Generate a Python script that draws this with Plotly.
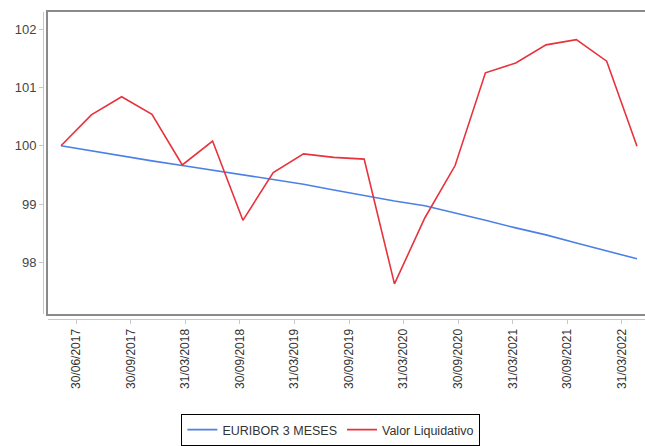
import plotly.graph_objects as go

# ---- data ----
quarters = list(range(20))  # quarterly observation index
euribor = [100.00, 99.91, 99.83, 99.74, 99.66, 99.58, 99.50, 99.43, 99.34, 99.24,
           99.14, 99.05, 98.97, 98.85, 98.72, 98.59, 98.47, 98.33, 98.20, 98.06]
valor = [100.00, 100.53, 100.84, 100.54, 99.67, 100.08, 98.72, 99.54, 99.86, 99.80,
         99.77, 97.63, 98.76, 99.66, 101.25, 101.42, 101.73, 101.82, 101.45, 99.99]
tick_pos = [0.5, 2.3, 4.1, 5.9, 7.7, 9.5, 11.3, 13.1, 14.9, 16.7, 18.5]
tick_labels = ["30/06/2017", "30/09/2017", "31/03/2018", "30/09/2018", "31/03/2019",
               "30/09/2019", "31/03/2020", "30/09/2020", "31/03/2021", "30/09/2021",
               "31/03/2022"]
y_ticks = [98, 99, 100, 101, 102]

W, H = 645, 446
x0, y_top, y_bot = 48, 12, 317
x_range = [-0.429, 19.264]
y_range = [97.11, 102.296]
x_dom = [x0 / W, 1]
y_dom = [1 - y_bot / H, 1 - y_top / H]

fig = go.Figure()
fig.add_trace(go.Scatter(x=quarters, y=euribor, mode="lines", name="EURIBOR 3 MESES",
                         line=dict(color="#4D80E6", width=1.6)))
fig.add_trace(go.Scatter(x=quarters, y=valor, mode="lines", name="Valor Liquidativo",
                         line=dict(color="#E8323C", width=1.6)))
# empty trace that only hosts the frame axes
fig.add_trace(go.Scatter(x=[], y=[], xaxis="x2", yaxis="y2", showlegend=False,
                         hoverinfo="skip"))

fig.update_layout(
    width=W, height=H,
    margin=dict(l=0, r=0, t=0, b=0),
    paper_bgcolor="white", plot_bgcolor="white",
    font=dict(family="Liberation Sans, Arial, sans-serif", size=12, color="#333333"),
    xaxis=dict(
        domain=x_dom, range=x_range,
        anchor="free", position=1 - 322 / H,
        showline=True, linecolor="#c8c8c8", linewidth=1,
        showgrid=False, zeroline=False,
        tickmode="array", tickvals=tick_pos, ticktext=tick_labels,
        tickangle=-90, ticks="outside", ticklen=4, tickcolor="#c8c8c8",
        tickfont=dict(size=12, color="#333333"), automargin=False,
    ),
    yaxis=dict(
        domain=y_dom, range=y_range,
        anchor="free", position=43 / W,
        showline=True, linecolor="#c8c8c8", linewidth=1,
        showgrid=False, zeroline=False,
        tickmode="array", tickvals=y_ticks,
        ticks="outside", ticklen=4, tickcolor="#c8c8c8",
        tickfont=dict(size=13, color="#444444"), automargin=False,
    ),
    xaxis2=dict(
        domain=x_dom, range=x_range, anchor="y2", overlaying="x",
        showline=True, mirror=True, linecolor="#8a8a8a", linewidth=2,
        showgrid=False, zeroline=False, showticklabels=False, ticks="",
        automargin=False,
    ),
    yaxis2=dict(
        domain=y_dom, range=y_range, anchor="x2", overlaying="y",
        showline=True, mirror=False, linecolor="#8a8a8a", linewidth=2,
        showgrid=False, zeroline=False, showticklabels=False, ticks="",
        automargin=False,
    ),
    legend=dict(
        orientation="h", x=0.513, xanchor="center", y=1 - 418 / H, yanchor="top",
        bordercolor="black", borderwidth=1, bgcolor="white",
        font=dict(size=12.5, color="#333333"), itemwidth=30,
    ),
    showlegend=True,
)

fig.write_html("out.html",
               config={"displayModeBar": False},
               post_script="document.documentElement.style.overflow='hidden';"
                           "document.documentElement.style.margin='0px';"
                           "document.body.style.margin='0px';"
                           "document.body.style.overflow='hidden';")
